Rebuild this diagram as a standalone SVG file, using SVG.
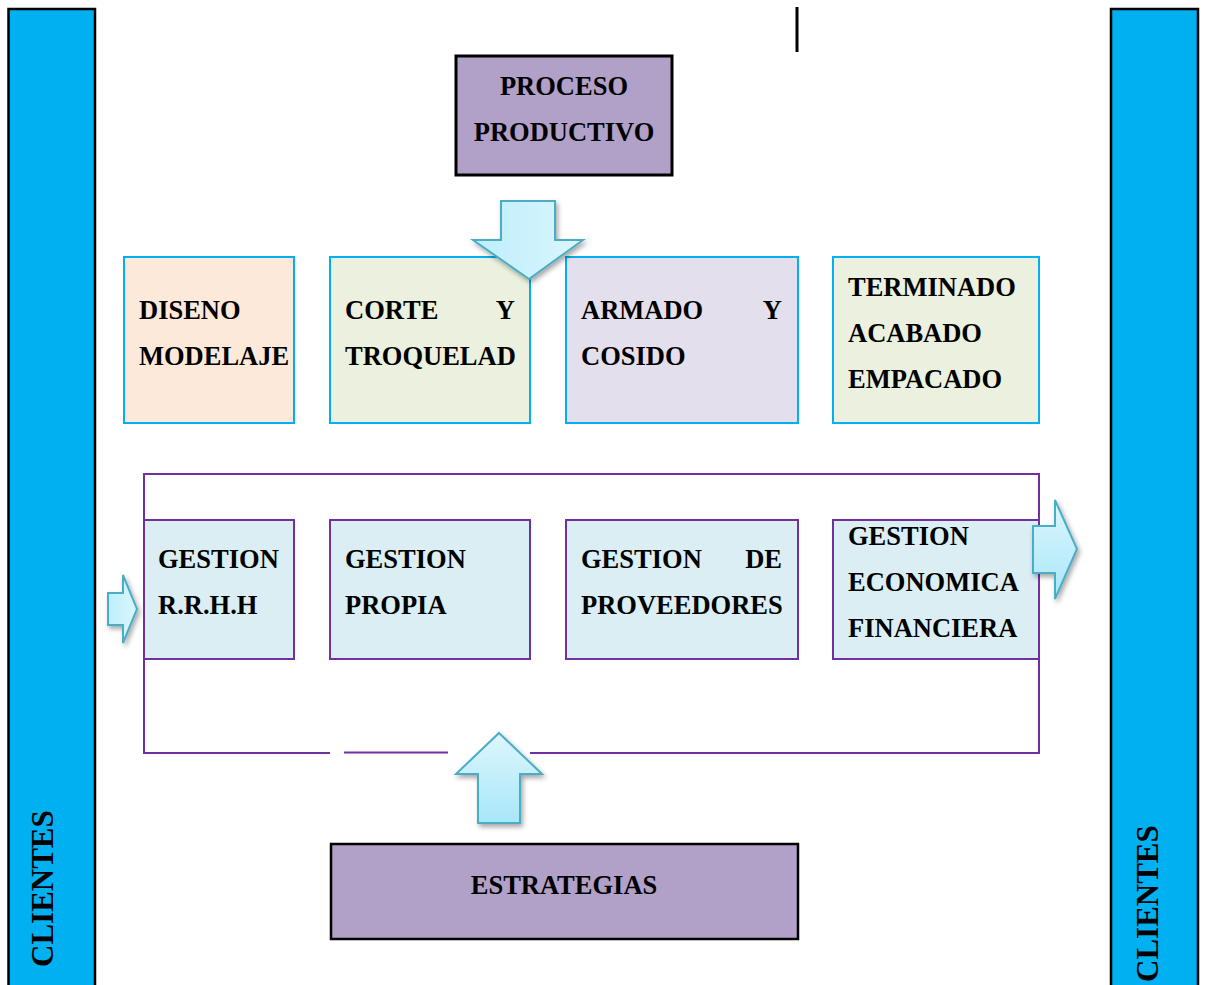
<svg xmlns="http://www.w3.org/2000/svg" width="1206" height="985" viewBox="0 0 1206 985">
<style>
.t{font-family:"Liberation Serif","Times New Roman",serif;font-weight:bold;font-size:26.5px;fill:#000}
.side{fill:#00B0F0;stroke:#000;stroke-width:2.5}
.proc{stroke:#00B0F0;stroke-width:2}
.gest{fill:#DAEEF3;stroke:#7030A0;stroke-width:2}
.head{fill:#B1A0C7;stroke:#000}
.arr{stroke:#4BACC6;stroke-width:2;stroke-linejoin:miter;filter:url(#sh)}
.pl{fill:none;stroke:#7030A0;stroke-width:2}
.cl{font-family:"Liberation Serif","Times New Roman",serif;font-weight:bold;font-size:31px;fill:#000}
</style>
<defs>
<linearGradient id="gh" x1="0" y1="0" x2="1" y2="0">
<stop offset="0" stop-color="#BDEEFB"/><stop offset="1" stop-color="#DBF6FD"/>
</linearGradient>
<linearGradient id="gv" x1="0" y1="0" x2="0" y2="1">
<stop offset="0" stop-color="#DDF6FD"/><stop offset="1" stop-color="#A8E7F8"/>
</linearGradient>
<filter id="sh" x="-30%" y="-30%" width="160%" height="160%">
<feDropShadow dx="2" dy="3" stdDeviation="2.5" flood-color="#000" flood-opacity="0.35"/>
</filter>
</defs>
<rect width="1206" height="985" fill="#fff"/>

<g id="clientes-left">
<rect class="side" x="8.5" y="9" width="86.5" height="990"/>
<text class="cl" transform="translate(53,967) rotate(-90)">CLIENTES</text>
</g>
<g id="clientes-right">
<rect class="side" x="1111" y="9" width="87" height="990"/>
<text class="cl" transform="translate(1158,982) rotate(-90)">CLIENTES</text>
</g>

<line x1="797" y1="7" x2="797" y2="52" stroke="#000" stroke-width="3"/>

<g id="proceso-productivo">
<rect class="head" x="456" y="56" width="216" height="119" stroke-width="3"/>
<text class="t" x="564" y="95" text-anchor="middle">PROCESO</text>
<text class="t" x="564" y="141" text-anchor="middle">PRODUCTIVO</text>
</g>

<g id="diseno">
<rect class="proc" x="124" y="257" width="170" height="166" fill="#FDE9D9"/>
<text class="t" x="139" y="319">DISENO</text>
<text class="t" x="139" y="365">MODELAJE</text>
</g>
<g id="corte">
<rect class="proc" x="330" y="257" width="200" height="166" fill="#EBF1DE"/>
<text class="t" x="345" y="319">CORTE</text>
<text class="t" x="515" y="319" text-anchor="end">Y</text>
<text class="t" x="345" y="365">TROQUELAD</text>
</g>
<g id="armado">
<rect class="proc" x="566" y="257" width="232" height="166" fill="#E4DFEC"/>
<text class="t" x="581" y="319">ARMADO</text>
<text class="t" x="782" y="319" text-anchor="end">Y</text>
<text class="t" x="581" y="365">COSIDO</text>
</g>
<g id="terminado">
<rect class="proc" x="833" y="257" width="206" height="166" fill="#EBF1DE"/>
<text class="t" x="848" y="296">TERMINADO</text>
<text class="t" x="848" y="342">ACABADO</text>
<text class="t" x="848" y="388">EMPACADO</text>
</g>

<g id="gestion-frame">
<polyline class="pl" points="144,753 144,474 1039,474 1039,753"/>
<line class="pl" x1="143" y1="753" x2="330" y2="753"/>
<line class="pl" x1="344" y1="752.5" x2="448" y2="752.5"/>
<line class="pl" x1="530" y1="753" x2="1040" y2="753"/>
</g>

<g id="gestion-rrhh">
<rect class="gest" x="144" y="520" width="150" height="139"/>
<text class="t" x="158" y="568">GESTION</text>
<text class="t" x="158" y="614">R.R.H.H</text>
</g>
<g id="gestion-propia">
<rect class="gest" x="330" y="520" width="200" height="139"/>
<text class="t" x="345" y="568">GESTION</text>
<text class="t" x="345" y="614">PROPIA</text>
</g>
<g id="gestion-proveedores">
<rect class="gest" x="566" y="520" width="232" height="139"/>
<text class="t" x="581" y="568">GESTION</text>
<text class="t" x="782" y="568" text-anchor="end">DE</text>
<text class="t" x="581" y="614">PROVEEDORES</text>
</g>
<g id="gestion-economica">
<rect class="gest" x="833" y="520" width="206" height="139"/>
<text class="t" x="848" y="545">GESTION</text>
<text class="t" x="848" y="591">ECONOMICA</text>
<text class="t" x="848" y="637">FINANCIERA</text>
</g>

<g id="estrategias">
<rect class="head" x="331" y="844" width="467" height="95" stroke-width="2.5"/>
<text class="t" x="564" y="894" text-anchor="middle">ESTRATEGIAS</text>
</g>

<g id="connectors">
<path class="arr" fill="url(#gh)" d="M501,201 H555 V240 H583 L529,279 L473,240 H501 Z"/>
<path class="arr" fill="url(#gh)" d="M108,593 H123 V575 L137,609 L123,643 V625 H108 Z"/>
<path class="arr" fill="url(#gv)" d="M1033,526 H1055 V500 L1077,549 L1055,599 V573 H1033 Z"/>
<path class="arr" fill="url(#gv)" d="M499,733 L542,774 H520 V823 H478 V774 H456 Z"/>
</g>
</svg>
